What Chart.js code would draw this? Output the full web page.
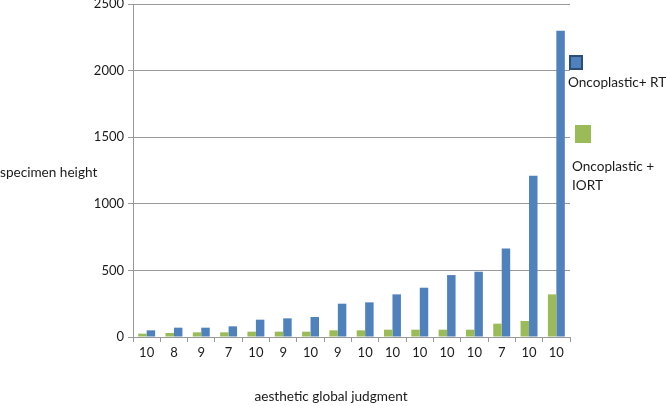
<!DOCTYPE html>
<html><head><meta charset="utf-8">
<script src="https://cdn.jsdelivr.net/npm/chart.js@4"></script>
<style>html,body{margin:0;padding:0;background:#fff}#wrap{width:666px;height:406px;position:relative}</style>
</head><body><div id="wrap"><canvas id="c" width="666" height="406"></canvas></div>
<script>
const categories = ["10","8","9","7","10","9","10","9","10","10","10","10","10","7","10","10"];
const seriesRT = [50,70,70,80,130,140,150,250,260,320,370,465,490,665,1210,2300];
const seriesIORT = [25,30,35,35,40,40,40,50,50,55,55,55,55,100,120,320];
const yTicks = [0,500,1000,1500,2000,2500];
const seriesNames = ["Oncoplastic+ RT", ["Oncoplastic +","IORT"]];
const xTitle = "aesthetic global judgment";
const yTitle = "specimen height";

const FONT = "Lato, 'Open Sans', sans-serif";
const decor = {
  id: 'decor',
  afterDraw(chart){
    const ctx = chart.ctx;
    ctx.save();
    ctx.fillStyle = '#1a1a1a';
    ctx.font = "13.6px " + FONT;
    ctx.textBaseline = 'middle';
    ctx.textAlign = 'left';
    ctx.fillText(yTitle, 0, 173);
    ctx.textAlign = 'center';
    ctx.fillText(xTitle, 331, 397);
    // legend
    ctx.fillStyle = '#4F81BD';
    ctx.fillRect(569, 55, 14, 15);
    ctx.strokeStyle = '#2C4D75';
    ctx.lineWidth = 2;
    ctx.strokeRect(570, 56, 12, 13);
    ctx.fillStyle = '#9BBB59';
    ctx.fillRect(575, 125, 16, 18);
    ctx.fillStyle = '#1a1a1a';
    ctx.textAlign = 'left';
    ctx.fillText(seriesNames[0], 568, 83);
    ctx.fillText(seriesNames[1][0], 572, 167);
    ctx.fillText(seriesNames[1][1], 572, 186);
    ctx.restore();
  }
};

new Chart(document.getElementById('c'), {
  type: 'bar',
  data: {
    labels: categories,
    datasets: [
      {label: "Oncoplastic + IORT", data: seriesIORT, backgroundColor: '#9BBB59', categoryPercentage: 0.62, barPercentage: 1.0},
      {label: "Oncoplastic+ RT", data: seriesRT, backgroundColor: '#4F81BD', categoryPercentage: 0.62, barPercentage: 1.0}
    ]
  },
  options: {
    responsive: false,
    animation: false,
    layout: {padding: {left: 0, right: 96, top: 4, bottom: 0}},
    plugins: {legend: {display: false}, tooltip: {enabled: false}},
    scales: {
      x: {
        grid: {display: true, drawOnChartArea: false, drawTicks: true, tickLength: 5, color: '#999999', offset: true},
        border: {color: '#999999'},
        ticks: {color: '#1a1a1a', font: {family: FONT, size: 13}, padding: 3, maxRotation: 0, autoSkip: false},
        afterFit(s){ s.height = 69; s.paddingLeft = 0; s.paddingRight = 0; }
      },
      y: {
        min: 0, max: 2500,
        afterBuildTicks(s){ s.ticks = yTicks.map(v => ({value: v})); },
        grid: {color: '#999999', tickLength: 5},
        border: {color: '#999999'},
        ticks: {color: '#1a1a1a', font: {family: FONT, size: 13}, padding: 4, callback: v => String(v)},
        afterFit(s){ s.width = 133; s.paddingTop = 0; s.paddingBottom = 0; }
      }
    }
  },
  plugins: [decor]
});
</script></body></html>
